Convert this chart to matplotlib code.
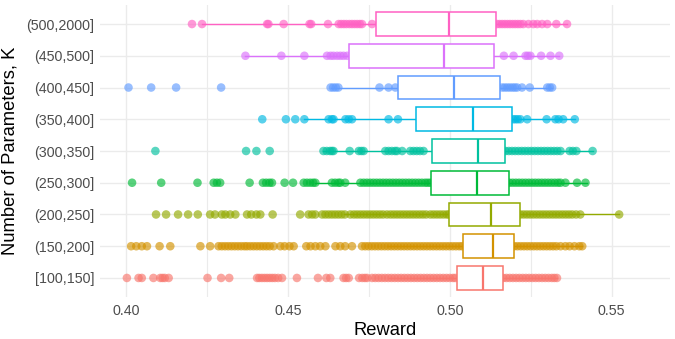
import matplotlib
matplotlib.use("Agg")
import matplotlib.pyplot as plt

plt.rcParams['font.family'] = ['Liberation Sans', 'DejaVu Sans']

# ---- data (bottom to top) ----
categories = ["[100,150]", "(150,200]", "(200,250]", "(250,300]", "(300,350]",
              "(350,400]", "(400,450]", "(450,500]", "(500,2000]"]
colors = ["#F8766D", "#D39200", "#93AA00", "#00BA38", "#00C19F",
          "#00B9E3", "#619CFF", "#DB72FB", "#FF61C3"]

q1 = [0.5023, 0.5041, 0.4999, 0.4942, 0.4944, 0.4897, 0.4840, 0.4688, 0.4771]
med = [0.5103, 0.5132, 0.5128, 0.5084, 0.5087, 0.5071, 0.5013, 0.4982, 0.4997]
q3 = [0.5163, 0.5197, 0.5216, 0.5182, 0.5169, 0.5193, 0.5154, 0.5136, 0.5144]
whisker_lo = [0.4811, 0.4806, 0.4672, 0.4585, 0.4610, 0.4551, 0.4632, 0.4369, 0.4235]
whisker_hi = [0.5331, 0.5409, 0.5523, 0.5424, 0.5441, 0.5386, 0.5316, 0.5338, 0.5362]

pts_100_150 = [0.4003, 0.4039, 0.4049, 0.4085, 0.4106, 0.4113, 0.4120, 0.4132, 0.4252, 0.4294,
               0.4319, 0.4405, 0.4412, 0.4420, 0.4428, 0.4436, 0.4444, 0.4452, 0.4460, 0.4470,
               0.4482, 0.4528, 0.4593, 0.4619, 0.4631, 0.4672, 0.4680, 0.4688, 0.4720, 0.4730,
               0.4738, 0.4745, 0.4760, 0.4770, 0.4780, 0.4790, 0.4800, 0.4810, 0.4820, 0.4830,
               0.4840, 0.4850, 0.4860, 0.4870, 0.4880, 0.4890, 0.4900, 0.4910, 0.4920, 0.4930,
               0.4940, 0.4950, 0.4960, 0.4970, 0.4980, 0.4990, 0.5000, 0.5010, 0.5017,
               0.5165, 0.5175, 0.5185, 0.5195, 0.5205, 0.5215, 0.5225, 0.5235, 0.5245, 0.5255,
               0.5265, 0.5275, 0.5285, 0.5295, 0.5305, 0.5315, 0.5323, 0.5331]
pts_150_200 = [0.4016, 0.4032, 0.4049, 0.4065, 0.4104, 0.4137, 0.4230, 0.4260, 0.4286, 0.4296,
               0.4306, 0.4316, 0.4326, 0.4336, 0.4346, 0.4356, 0.4366, 0.4374, 0.4384, 0.4394,
               0.4404, 0.4414, 0.4424, 0.4434, 0.4444, 0.4456, 0.4477, 0.4490, 0.4505, 0.4518,
               0.4557, 0.4570, 0.4585, 0.4600, 0.4616, 0.4647, 0.4662, 0.4677, 0.4698,
               0.4729, 0.4739, 0.4749, 0.4759, 0.4769, 0.4779, 0.4789, 0.4799, 0.4809, 0.4819,
               0.4829, 0.4839, 0.4849, 0.4859, 0.4869, 0.4879, 0.4889, 0.4899, 0.4909, 0.4919,
               0.4929, 0.4939, 0.4949, 0.4959, 0.4969, 0.4979, 0.4989, 0.4999, 0.5009, 0.5019,
               0.5029, 0.5038,
               0.5199, 0.5209, 0.5219, 0.5229, 0.5239, 0.5249, 0.5259, 0.5269, 0.5279, 0.5289,
               0.5299, 0.5309, 0.5319, 0.5329, 0.5342, 0.5357, 0.5370, 0.5385, 0.5400, 0.5409]
pts_200_250 = [0.4093, 0.4124, 0.4161, 0.4192, 0.4222, 0.4260, 0.4275, 0.4296, 0.4307, 0.4322,
               0.4338, 0.4374, 0.4387, 0.4403, 0.4415, 0.4453, 0.4538, 0.4564, 0.4575, 0.4585,
               0.4606, 0.4616, 0.4626, 0.4636, 0.4646, 0.4656, 0.4666, 0.4676, 0.4693, 0.4704,
               0.4714, 0.4724, 0.4734, 0.4744, 0.4754, 0.4764, 0.4774, 0.4784, 0.4794, 0.4806,
               0.4817, 0.4827, 0.4837, 0.4847, 0.4857, 0.4867, 0.4877, 0.4887, 0.4897, 0.4907,
               0.4917, 0.4927, 0.4940, 0.4950, 0.4960, 0.4970, 0.4980, 0.4990, 0.4997,
               0.5218, 0.5228, 0.5238, 0.5248, 0.5258, 0.5268, 0.5278, 0.5288, 0.5298, 0.5308,
               0.5318, 0.5328, 0.5338, 0.5348, 0.5358, 0.5368, 0.5378, 0.5390, 0.5403, 0.5523]
pts_250_300 = [0.4019, 0.4109, 0.4221, 0.4271, 0.4281, 0.4291, 0.4382, 0.4423, 0.4433, 0.4443,
               0.4451, 0.4490, 0.4516, 0.4549, 0.4559, 0.4569, 0.4578, 0.4585, 0.4636, 0.4646,
               0.4656, 0.4662, 0.4677, 0.4724, 0.4734, 0.4744, 0.4754, 0.4764, 0.4774, 0.4784,
               0.4794, 0.4804, 0.4814, 0.4824, 0.4834, 0.4844, 0.4854, 0.4864, 0.4874, 0.4884,
               0.4894, 0.4904, 0.4914, 0.4924, 0.4932, 0.4940,
               0.5184, 0.5194, 0.5204, 0.5214, 0.5224, 0.5234, 0.5244, 0.5254, 0.5264, 0.5274,
               0.5284, 0.5294, 0.5304, 0.5314, 0.5324, 0.5334, 0.5342, 0.5357, 0.5393, 0.5419]
pts_300_350 = [0.4091, 0.4371, 0.4403, 0.4444, 0.4610, 0.4620, 0.4630, 0.4636, 0.4641, 0.4691,
               0.4719, 0.4727, 0.4734, 0.4801, 0.4811, 0.4821, 0.4831, 0.4837, 0.4853, 0.4878,
               0.4888, 0.4898, 0.4908, 0.4919,
               0.5172, 0.5182, 0.5192, 0.5202, 0.5212, 0.5222, 0.5232, 0.5242, 0.5252, 0.5262,
               0.5272, 0.5282, 0.5292, 0.5302, 0.5312, 0.5322, 0.5332, 0.5342, 0.5370, 0.5380,
               0.5391, 0.5441]
pts_350_400 = [0.4421, 0.4494, 0.4523, 0.4551, 0.4626, 0.4636, 0.4641, 0.4678, 0.4688, 0.4698,
               0.4811, 0.4840, 0.5196, 0.5203, 0.5210, 0.5218, 0.5239, 0.5299, 0.5326, 0.5336,
               0.5350, 0.5386]
pts_400_450 = [0.4008, 0.4078, 0.4155, 0.4294, 0.4632, 0.4640, 0.4648, 0.4656, 0.4783, 0.4811,
               0.4832, 0.5162, 0.5170, 0.5178, 0.5186, 0.5194, 0.5201, 0.5208, 0.5223, 0.5247,
               0.5301, 0.5309, 0.5316]
pts_450_500 = [0.4369, 0.4480, 0.4551, 0.4621, 0.4632, 0.4641, 0.4652, 0.4662, 0.4672, 0.4683,
               0.5167, 0.5197, 0.5234, 0.5241, 0.5249, 0.5282, 0.5311, 0.5338]
pts_500_2000 = [0.4204, 0.4235, 0.4436, 0.4440, 0.4487, 0.4567, 0.4572, 0.4624, 0.4657, 0.4665,
                0.4673, 0.4681, 0.4690, 0.4698, 0.4706, 0.4714, 0.4722, 0.4729, 0.4760,
                0.5146, 0.5154, 0.5162, 0.5170, 0.5178, 0.5186, 0.5194, 0.5202, 0.5210, 0.5218,
                0.5227, 0.5243, 0.5258, 0.5270, 0.5285, 0.5301, 0.5329, 0.5362]

points = [pts_100_150, pts_150_200, pts_200_250, pts_250_300, pts_300_350,
          pts_350_400, pts_400_450, pts_450_500, pts_500_2000]

xticks = [0.40, 0.45, 0.50, 0.55]
xtick_labels = ["0.40", "0.45", "0.50", "0.55"]
minor_xticks = [0.425, 0.475, 0.525]

# ---- figure ----
fig = plt.figure(figsize=(6.75, 3.39), dpi=100)
W, H = 675, 339
ax = fig.add_axes([100 / W, (H - 297) / H, 570 / W, 292 / H])

positions = list(range(1, len(categories) + 1))

for pos, vals, c in zip(positions, points, colors):
    ax.scatter(vals, [pos] * len(vals), s=38, color=c, alpha=0.65,
               edgecolors='none', zorder=2)

stats = []
for i in range(len(categories)):
    stats.append(dict(med=med[i], q1=q1[i], q3=q3[i],
                      whislo=whisker_lo[i], whishi=whisker_hi[i], fliers=[]))

bp = ax.bxp(stats, positions=positions, orientation='horizontal', widths=0.75,
            showcaps=False, showfliers=False, patch_artist=True,
            manage_ticks=False, zorder=3)
for i, c in enumerate(colors):
    bp['boxes'][i].set(facecolor='white', edgecolor=c, linewidth=1.1, zorder=3)
    bp['medians'][i].set(color=c, linewidth=1.6, zorder=4)
    for w in bp['whiskers'][2 * i:2 * i + 2]:
        w.set(color=c, linewidth=1.0, zorder=1.5)

ax.set_xlim(0.392, 0.568)
ax.set_ylim(0.4, len(categories) + 0.6)

ax.set_xticks(xticks)
ax.set_xticklabels(xtick_labels)
ax.set_xticks(minor_xticks, minor=True)
ax.set_yticks(positions)
ax.set_yticklabels(categories)

ax.grid(True, which='major', color='#EBEBEB', linewidth=1.0, zorder=0)
ax.grid(True, which='minor', axis='x', color='#EBEBEB', linewidth=0.8, zorder=0)
ax.set_axisbelow(True)

for s in ax.spines.values():
    s.set_visible(False)
ax.tick_params(axis='both', which='both', length=0, labelsize=10.3,
               labelcolor='#4D4D4D')
ax.tick_params(axis='y', pad=4)
ax.tick_params(axis='x', pad=5)

ax.set_xlabel("Reward", fontsize=13.2, color='black', labelpad=3)
ax.set_ylabel("Number of Parameters, K", fontsize=13.2, color='black', labelpad=6)

fig.savefig("out.png", dpi=100)
